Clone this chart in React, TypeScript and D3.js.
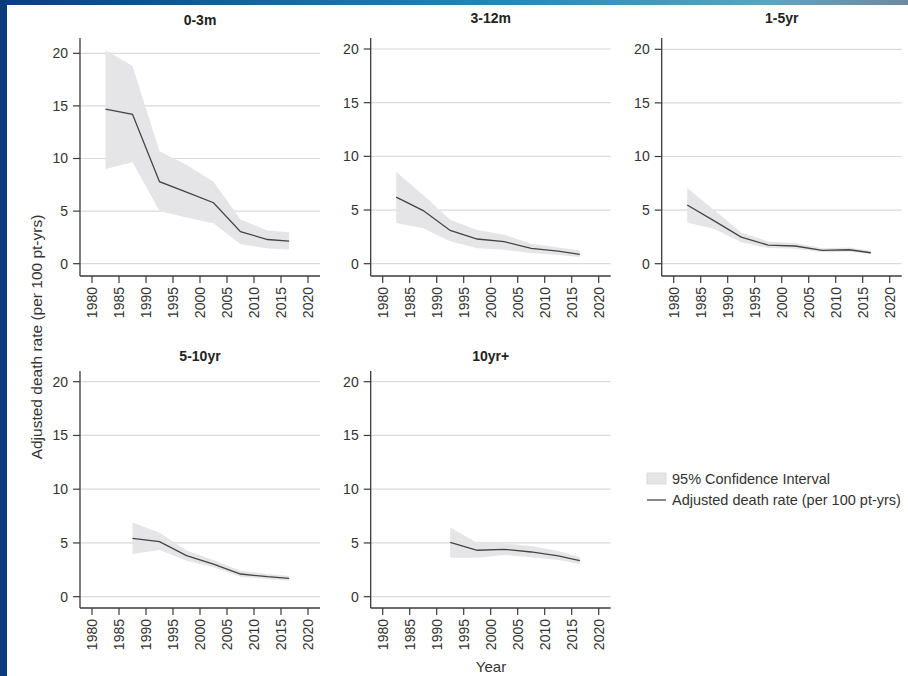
import React from "react";
import * as d3 from "d3";

// period midpoints (years)
const periods = [1982.5, 1987.5, 1992.5, 1997.5, 2002.5, 2007.5, 2012.5, 2016.5];
const yearTicks = [1980, 1985, 1990, 1995, 2000, 2005, 2010, 2015, 2020];
const rateTicks = [0, 5, 10, 15, 20];

const groups = ["0-3m", "3-12m", "1-5yr", "5-10yr", "10yr+"];

// adjusted death rate per 100 pt-yrs, with 95% CI (null = no data)
const rate0to3m = [14.7, 14.2, 7.8, 6.8, 5.8, 3.05, 2.3, 2.15];
const lower0to3m = [9.0, 9.65, 5.0, 4.4, 3.85, 1.85, 1.45, 1.35];
const upper0to3m = [20.3, 18.8, 10.7, 9.4, 7.8, 4.2, 3.15, 3.0];

const rate3to12m = [6.2, 4.95, 3.1, 2.3, 2.05, 1.43, 1.18, 0.87];
const lower3to12m = [3.8, 3.3, 2.1, 1.43, 1.3, 1.0, 0.8, 0.62];
const upper3to12m = [8.55, 6.4, 4.1, 3.15, 2.7, 1.86, 1.52, 1.24];

const rate1to5yr = [5.47, 4.0, 2.48, 1.74, 1.65, 1.24, 1.3, 1.02];
const lower1to5yr = [3.85, 3.23, 2.0, 1.46, 1.4, 1.06, 1.12, 0.9];
const upper1to5yr = [7.05, 5.0, 2.9, 2.08, 1.93, 1.43, 1.5, 1.21];

const rate5to10yr = [null, 5.43, 5.12, 3.82, 3.04, 2.11, 1.86, 1.71];
const lower5to10yr = [null, 3.98, 4.35, 3.35, 2.73, 1.86, 1.65, 1.49];
const upper5to10yr = [null, 6.9, 5.96, 4.29, 3.42, 2.42, 2.11, 1.93];

const rate10yrPlus = [null, null, 5.06, 4.32, 4.41, 4.16, 3.79, 3.35];
const lower10yrPlus = [null, null, 3.63, 3.63, 3.88, 3.66, 3.42, 3.04];
const upper10yrPlus = [null, null, 6.43, 5.03, 4.97, 4.72, 4.25, 3.66];

const series = [
  { rate: rate0to3m, lower: lower0to3m, upper: upper0to3m },
  { rate: rate3to12m, lower: lower3to12m, upper: upper3to12m },
  { rate: rate1to5yr, lower: lower1to5yr, upper: upper1to5yr },
  { rate: rate5to10yr, lower: lower5to10yr, upper: upper5to10yr },
  { rate: rate10yrPlus, lower: lower10yrPlus, upper: upper10yrPlus },
];

// panel frames: left axis x, y of 0 and 20, axis extents, title baseline
const frames = [
  { left: 80, y0: 263.7, y20: 53.3, top: 38, bottom: 276, titleY: 25 },
  { left: 370.7, y0: 263.7, y20: 49, top: 38, bottom: 276, titleY: 23 },
  { left: 661.7, y0: 263.7, y20: 49.3, top: 38, bottom: 276, titleY: 23 },
  { left: 80, y0: 596.7, y20: 381.7, top: 371, bottom: 608, titleY: 361 },
  { left: 370.7, y0: 596.7, y20: 381.7, top: 371, bottom: 608, titleY: 361 },
];

const W = 908, H = 676;
const PW = 240;
const FONT = "'Liberation Sans', Arial, Helvetica, sans-serif";
const BAND = "#e5e5e7";
const LINE = "#444";
const AXIS = "#3a3a3a";
const GRID = "#dadada";
const TXT = "#333";

const Panel = ({ idx }) => {
  const f = frames[idx];
  const s = series[idx];
  const x = d3.scaleLinear([1980, 2020], [f.left + 12, f.left + PW - 12]);
  const y = d3.scaleLinear([0, 20], [f.y0, f.y20]);
  const pts = periods.map((p, i) => ({ p, r: s.rate[i], lo: s.lower[i], hi: s.upper[i] }))
    .filter(d => d.r != null);
  const area = d3.area().x(d => x(d.p)).y0(d => y(d.lo)).y1(d => y(d.hi));
  const line = d3.line().x(d => x(d.p)).y(d => y(d.r));
  return (
    <g>
      <text x={f.left + PW / 2} y={f.titleY} textAnchor="middle" fontWeight="bold" fontSize={14} fill="#222">{groups[idx]}</text>
      {rateTicks.map(t => (
        <line key={"g" + t} x1={f.left} x2={f.left + PW} y1={y(t)} y2={y(t)} stroke={GRID} strokeWidth={1.2} />
      ))}
      <path d={area(pts)} fill={BAND} />
      <path d={line(pts)} fill="none" stroke={LINE} strokeWidth={1.3} />
      <line x1={f.left} x2={f.left} y1={f.top} y2={f.bottom} stroke={AXIS} strokeWidth={1.3} />
      <line x1={f.left} x2={f.left + PW} y1={f.bottom} y2={f.bottom} stroke={AXIS} strokeWidth={1.3} />
      {rateTicks.map(t => (
        <g key={"y" + t}>
          <line x1={f.left - 7} x2={f.left} y1={y(t)} y2={y(t)} stroke={AXIS} strokeWidth={1.2} />
          <text x={f.left - 12} y={y(t)} dy="0.35em" textAnchor="end" fontSize={14} fill={TXT}>{t}</text>
        </g>
      ))}
      {yearTicks.map(t => (
        <g key={"x" + t}>
          <line x1={x(t)} x2={x(t)} y1={f.bottom} y2={f.bottom + 7} stroke={AXIS} strokeWidth={1.2} />
          <text transform={`translate(${x(t)},${f.bottom + 11}) rotate(-90)`} dy="0.35em" textAnchor="end" fontSize={14} fill={TXT}>{t}</text>
        </g>
      ))}
    </g>
  );
};

const App = () => {
  return (
    <div style={{ position: "absolute", left: 0, top: 0 }}>
      <svg width={W} height={H} style={{ display: "block", fontFamily: FONT }}>
        <defs>
          <linearGradient id="topband" x1="0" x2="1" y1="0" y2="0">
            <stop offset="0" stopColor="#0b3d7c" />
            <stop offset="0.55" stopColor="#2189b3" />
            <stop offset="0.85" stopColor="#5fa3c0" />
            <stop offset="1" stopColor="#6d8aa0" />
          </linearGradient>
        </defs>
        <rect x={0} y={0} width={W} height={H} fill="#fff" />
        <rect x={0} y={0} width={W} height={5} fill="url(#topband)" />
        <rect x={0} y={0} width={7} height={H} fill="#0b3d7c" />
        {groups.map((g, i) => <Panel key={g} idx={i} />)}
        <text transform="translate(37,337) rotate(-90)" textAnchor="middle" dy="0.35em" fontSize={15.5} fill={TXT}>Adjusted death rate (per 100 pt-yrs)</text>
        <text x={491} y={672} textAnchor="middle" fontSize={15} fill={TXT}>Year</text>
        <rect x={647} y={473} width={19} height={11} fill={BAND} stroke="#d4d4d4" strokeWidth={0.8} />
        <text x={672} y={479} dy="0.35em" fontSize={14.5} fill={TXT}>95% Confidence Interval</text>
        <line x1={647} x2={666} y1={500} y2={500} stroke={LINE} strokeWidth={1.3} />
        <text x={672} y={500} dy="0.35em" fontSize={14.5} fill={TXT}>Adjusted death rate (per 100 pt-yrs)</text>
      </svg>
    </div>
  );
};

export default App;
